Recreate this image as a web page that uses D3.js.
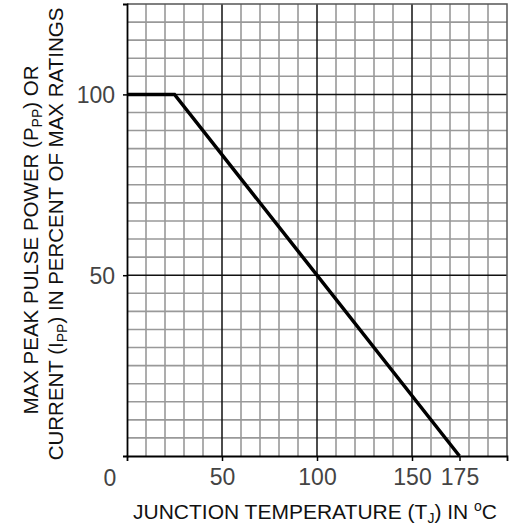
<!DOCTYPE html>
<html>
<head>
<meta charset="utf-8">
<script src="https://cdn.jsdelivr.net/npm/d3@7"></script>
<style>
  body { margin: 0; background: #fff; }
  text { font-family: "Liberation Sans", Arial, sans-serif; }
</style>
</head>
<body>
<section></section>
<script>
// derating curve values (temperature in C, percent of max rating)
var tempC = [0, 25, 175];
var percent = [100, 100, 0];
var xTicks = [50, 100, 150, 175];
var yTicks = [50, 100];

var W = 511, H = 531;
var margin = {top: 4, right: 4, bottom: 75, left: 127};

var svg = d3.select("section").append("svg")
  .attr("width", W)
  .attr("height", H);

// x goes to 200 and y to 125 so the grid keeps its empty part
var x = d3.scaleLinear().domain([0, 200]).range([margin.left, W - margin.right]);
var y = d3.scaleLinear().domain([0, 125]).range([H - margin.bottom, margin.top]);

var g = svg.append("g");

// minor grid, every 10 C and every 5 %
g.selectAll(".vminor")
  .data(d3.range(10, 200, 10).filter(function(d) { return d % 50 != 0; }))
  .enter().append("line")
  .attr("x1", function(d) { return x(d); }).attr("x2", function(d) { return x(d); })
  .attr("y1", y(0)).attr("y2", y(125))
  .attr("stroke", "#999").attr("stroke-width", 1.6);

g.selectAll(".hminor")
  .data(d3.range(5, 125, 5).filter(function(d) { return d % 50 != 0; }))
  .enter().append("line")
  .attr("y1", function(d) { return y(d); }).attr("y2", function(d) { return y(d); })
  .attr("x1", x(0)).attr("x2", x(200))
  .attr("stroke", "#999").attr("stroke-width", 1.6);

// major grid
g.selectAll(".vmajor")
  .data([50, 100, 150])
  .enter().append("line")
  .attr("x1", function(d) { return x(d); }).attr("x2", function(d) { return x(d); })
  .attr("y1", y(0)).attr("y2", y(125))
  .attr("stroke", "#111").attr("stroke-width", 1.5);

g.selectAll(".hmajor")
  .data(yTicks)
  .enter().append("line")
  .attr("y1", function(d) { return y(d); }).attr("y2", function(d) { return y(d); })
  .attr("x1", x(0)).attr("x2", x(200))
  .attr("stroke", "#111").attr("stroke-width", 1.5);

// top and right border
g.append("path")
  .attr("d", "M" + x(0) + "," + y(125) + "H" + x(200) + "V" + y(0))
  .attr("fill", "none").attr("stroke", "#555").attr("stroke-width", 1.5);

// axes
var xAxis = svg.append("g")
  .attr("transform", "translate(0," + y(0) + ")")
  .call(d3.axisBottom(x).tickValues(xTicks).tickSize(5).tickPadding(8));
var yAxis = svg.append("g")
  .attr("transform", "translate(" + x(0) + ",0)")
  .call(d3.axisLeft(y).tickValues(yTicks).tickSize(4).tickPadding(8));

[xAxis, yAxis].forEach(function(a) {
  a.select(".domain").attr("stroke", "#000").attr("stroke-width", 1.8);
  a.selectAll(".tick line").attr("stroke", "#000").attr("stroke-width", 1.5);
  a.selectAll(".tick text")
    .style("font-family", "'Liberation Sans', Arial, sans-serif")
    .style("font-size", "23px")
    .attr("fill", "#444");
});
yAxis.selectAll(".tick text").attr("dy", "0.36em");

// shared zero at the corner
svg.append("text")
  .attr("x", 110).attr("y", 486)
  .attr("text-anchor", "middle")
  .style("font-size", "23px").attr("fill", "#444")
  .text("0");

// the derating line
var line = d3.line()
  .x(function(d, i) { return x(tempC[i]); })
  .y(function(d, i) { return y(percent[i]); });

g.append("path")
  .datum(tempC)
  .attr("d", line)
  .attr("fill", "none")
  .attr("stroke", "#000")
  .attr("stroke-width", 3.5);

// x title
var xt = svg.append("text")
  .attr("x", 133).attr("y", 519)
  .style("font-size", "21px").attr("fill", "#111");
xt.append("tspan").text("JUNCTION TEMPERATURE (T");
xt.append("tspan").attr("dy", 4).style("font-size", "14px").text("J");
xt.append("tspan").attr("dy", -4).text(") IN ");
xt.append("tspan").attr("dy", -8).style("font-size", "14px").text("o");
xt.append("tspan").attr("dy", 8).text("C");

// y title, two lines
var yt1 = svg.append("text")
  .attr("transform", "translate(38,240) rotate(-90)")
  .attr("text-anchor", "middle")
  .style("font-size", "20.5px").attr("fill", "#111");
yt1.append("tspan").text("MAX PEAK PULSE POWER (P");
yt1.append("tspan").attr("dy", 4).style("font-size", "14px").text("PP");
yt1.append("tspan").attr("dy", -4).text(") OR");

var yt2 = svg.append("text")
  .attr("transform", "translate(63,234) rotate(-90)")
  .attr("text-anchor", "middle")
  .style("font-size", "20.5px").attr("fill", "#111");
yt2.append("tspan").text("CURRENT (I");
yt2.append("tspan").attr("dy", 4).style("font-size", "14px").text("PP");
yt2.append("tspan").attr("dy", -4).text(") IN PERCENT OF MAX RATINGS");
</script>
</body>
</html>
